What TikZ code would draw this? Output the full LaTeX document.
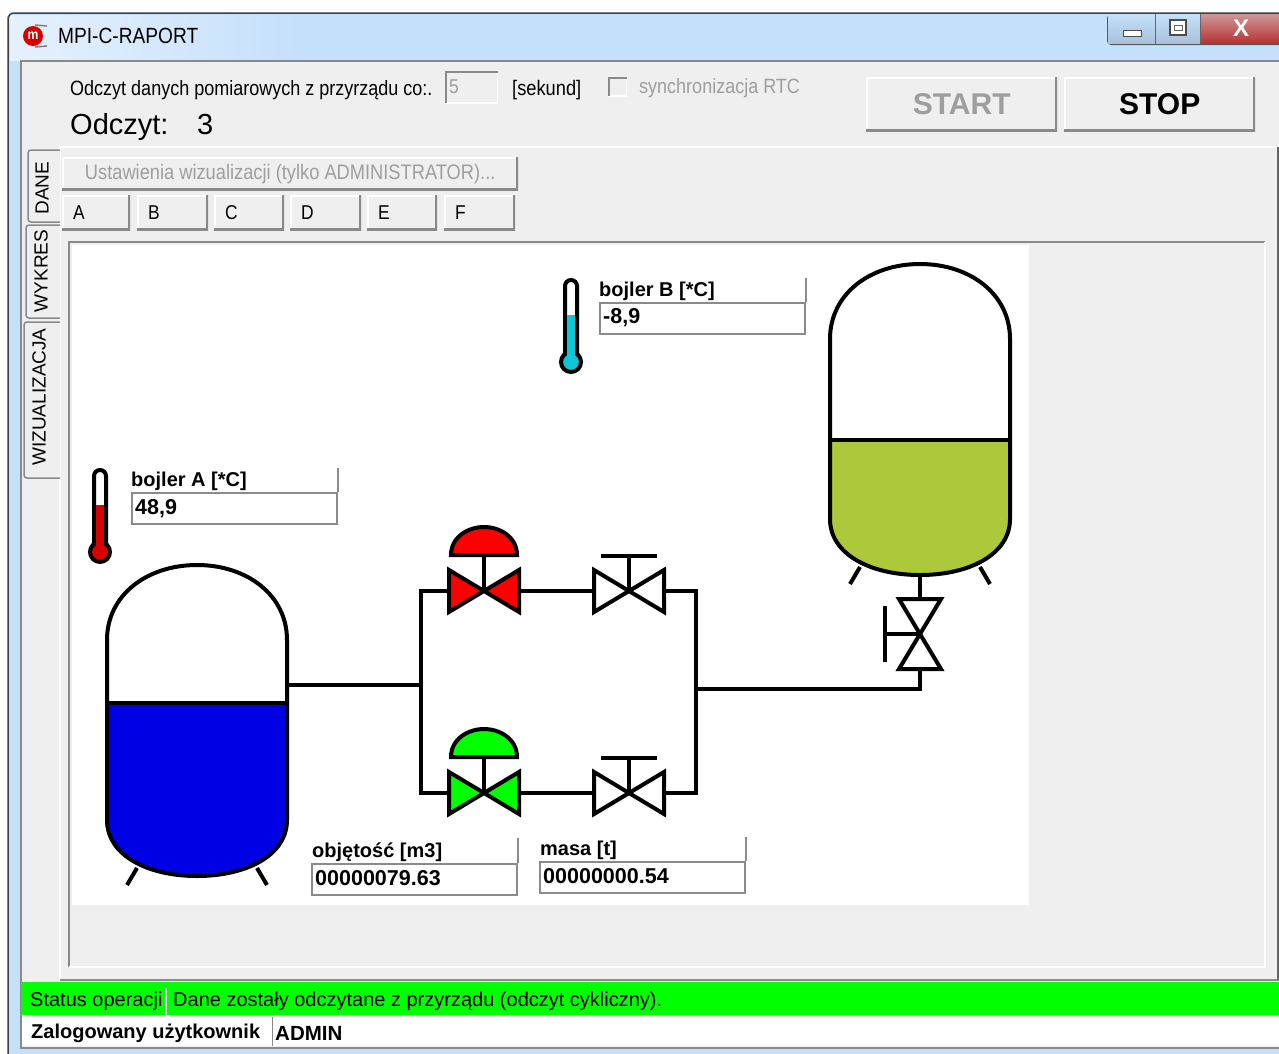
\documentclass[tikz,border=0pt]{standalone}
\usepackage{fontspec}
\setmainfont{Liberation Sans}
\newfontfamily\guifont[FakeStretch=0.87]{Liberation Sans}
\usetikzlibrary{positioning}
\definecolor{guibg}{HTML}{EFEFEF}
\definecolor{framebl}{HTML}{C5E0FB}
\definecolor{edgegr}{HTML}{8A8A8A}
\definecolor{hintgr}{HTML}{9E9E9E}
\definecolor{statgr}{HTML}{00FF00}
\definecolor{oilgr}{HTML}{ABC93A}
\definecolor{coldcy}{HTML}{12C4D8}
\definecolor{winbtn}{HTML}{A9C1DA}
\newcommand{\guisize}[1]{\guifont\fontsize{#1}{#1}\selectfont}
\newcommand{\widesize}[1]{\normalfont\fontsize{#1}{#1}\selectfont}
\tikzset{
    pipeline/.style={line width=4pt,draw=black,line join=miter},
    raised/.style={anchor=north west,fill=guibg,inner sep=0pt,path picture={
        \draw[white,line width=3pt] (path picture bounding box.south west) |- (path picture bounding box.north east);
        \draw[edgegr,line width=4.5pt] (path picture bounding box.south west) -| (path picture bounding box.north east);}},
    sunken/.style={anchor=north west,fill=white,inner xsep=4pt,inner ysep=0pt,path picture={
        \draw[white,line width=3pt] (path picture bounding box.south west) -| (path picture bounding box.north east);
        \draw[edgegr,line width=3pt] (path picture bounding box.south west) |- (path picture bounding box.north east);}},
    fieldbox/.style={anchor=north west,draw=edgegr,line width=2pt,fill=white,minimum width=205pt,minimum height=31pt,
        text width=197pt,inner xsep=4pt,inner ysep=0pt,font=\widesize{21.5}\bfseries},
    fieldvalue/.style={anchor=base west,inner sep=0pt,font=\widesize{21.5}\bfseries},
    fieldtag/.style={anchor=south west,inner sep=0pt,font=\widesize{20}\bfseries},
    tabbtn/.style={raised,minimum height=35pt,inner xsep=0pt,align=left,font=\guisize{20}},
    sidetab/.style={rotate=90,inner sep=0pt,font=\widesize{19}},
    pics/manualvalve/.style={code={
        \coordinate (-l) at (-36,0);
        \coordinate (-r) at (36,0);
        \draw[pipeline,fill=white] (-35,-21) -- (0,0) -- (-35,21) -- cycle;
        \draw[pipeline,fill=white] (35,-21) -- (0,0) -- (35,21) -- cycle;
        \draw[pipeline] (0,0) -- (0,-35);
        \draw[pipeline] (-28,-35) -- (28,-35);}},
    pics/drivevalve/.style={code={
        \coordinate (-l) at (-36,0);
        \coordinate (-r) at (36,0);
        \draw[pipeline,fill=#1] (-35,-21) -- (0,0) -- (-35,21) -- cycle;
        \draw[pipeline,fill=#1] (35,-21) -- (0,0) -- (35,21) -- cycle;
        \draw[pipeline] (0,0) -- (0,-36);
        \draw[pipeline,fill=#1] (-33,-36) .. controls (-33,-54) and (-16,-64) .. (0,-64) .. controls (16,-64) and (33,-54) .. (33,-36) -- cycle;}},
    pics/tank/.style 2 args={code={
        \coordinate (-top) at (0,0);
        \coordinate (-bottom) at (0,311);
        \path[fill=white] (-90,75) .. controls (-90,30) and (-50,0) .. (0,0) .. controls (50,0) and (90,30) .. (90,75) -- (90,255) .. controls (90,290) and (50,311) .. (0,311) .. controls (-50,311) and (-90,290) .. (-90,255) -- cycle;
        \begin{scope}
            \clip (-92,#2) rectangle (92,315);
            \path[fill=#1] (-90,75) -- (90,75) -- (90,255) .. controls (90,290) and (50,311) .. (0,311) .. controls (-50,311) and (-90,290) .. (-90,255) -- cycle;
        \end{scope}
        \draw[pipeline] (-90,#2) -- (90,#2);
        \draw[pipeline] (-90,75) .. controls (-90,30) and (-50,0) .. (0,0) .. controls (50,0) and (90,30) .. (90,75) -- (90,255) .. controls (90,290) and (50,311) .. (0,311) .. controls (-50,311) and (-90,290) .. (-90,255) -- cycle;
        \draw[pipeline] (-60,303) -- (-70,320);
        \draw[pipeline] (60,303) -- (70,320);}},
    pics/thermo/.style 2 args={code={
        \draw[pipeline,fill=white,rounded corners=6pt] (-6,85) -- (-6,2) -- (6,2) -- (6,85);
        \draw[pipeline,fill=#1] (0,84) circle (10);
        \fill[#1] (-4,#2) rectangle (4,78);}},
}
\begin{document}
\begin{tikzpicture}[x=1pt,y=-1pt]
    \useasboundingbox (0,0) rectangle (1279,1053);
    \fill[white] (0,0) rectangle (1279,1053);
    %% Window
    \fill[framebl,rounded corners=6pt] (8,1060) rectangle (1285,13);
    \fill[left color=white!55!framebl,right color=framebl] (10,15) rectangle (300,60);
    \draw[draw=black!75,line width=1.5pt,rounded corners=6pt] (8,1060) |- (1285,13);
    \fill[guibg] (21,1048) rectangle (1285,61);
    \draw[draw=edgegr,line width=1.5pt] (1285,1048) -| (21,61) -- (1285,61);
    %% Title
    \fill[red!85!black] (33,36) circle (10);
    \draw[gray,line width=1.5pt] (35,25) -- (47,26) (35,47) -- (47,46);
    \node[inner sep=0pt,text=white,font=\guisize{14}\bfseries] (icon) at (33,36) {m};
    \node[anchor=west,inner sep=0pt,font=\guisize{22}] (title) at (58,36) {MPI-C-RAPORT};
    %% Window buttons
    \fill[black!65,rounded corners=4pt] (1107,14) rectangle (1285,45);
    \fill[top color=framebl,bottom color=winbtn] (1108,14) rectangle (1155,43);
    \fill[top color=framebl,bottom color=winbtn] (1156,14) rectangle (1200,43);
    \fill[top color=red!35!gray!60,bottom color=red!65!black!80] (1201,14) rectangle (1279,43);
    \draw[fill=white,draw=black!70,line width=1pt] (1123,30) rectangle (1141,36);
    \draw[fill=white,draw=black!70,line width=1.5pt] (1170,20) rectangle (1186,35);
    \draw[black!60,fill=white] (1174,25) rectangle (1182,30);
    \node[inner sep=0pt,text=white,font=\widesize{24}\bfseries] (closex) at (1241,28) {X};
    %% Top row
    \node[anchor=base west,inner sep=0pt,font=\guisize{20.7}] (odczytdanych) at (70,95) {Odczyt danych pomiarowych z przyrządu co:.};
    \node[sunken,fill=guibg,text=hintgr,minimum width=53pt,minimum height=32pt,text width=45pt,font=\guisize{20}] (interval) at (445,71) {5};
    \node[anchor=base west,inner sep=0pt,font=\guisize{21}] (sekund) at (512,95) {[sekund]};
    \node[sunken,fill=guibg,minimum size=19pt,inner xsep=0pt] (rtcbox) at (608,77) {};
    \node[anchor=base west,inner sep=0pt,text=hintgr,font=\guisize{20.7}] (rtc) at (639,93) {synchronizacja RTC};
    \node[anchor=base west,inner sep=0pt,font=\widesize{29}] (odczyt) at (70,134) {Odczyt:};
    \node[anchor=base west,inner sep=0pt,font=\widesize{29}] (odczytval) at (197,134) {3};
    \node[raised,minimum width=191pt,minimum height=54pt,text=hintgr,font=\widesize{30}\bfseries] (start) at (866,77) {START};
    \node[raised,minimum width=191pt,minimum height=54pt,font=\widesize{30}\bfseries] (stop) at (1064,77) {STOP};
    %% Tab page
    \draw[draw=white,line width=1.5pt] (60,980) |- (1279,147);
    \draw[edgegr,line width=2pt] (60,980) -- (1279,980);
    \draw[black!60,line width=2pt] (1278,147) -- (1278,980);
    \draw[draw=edgegr,line width=2.5pt] (69,967) |- (1265,242);
    \draw[white,line width=1.5pt] (69,967) -- (1265,967) -- (1265,242);
    \fill[white] (72,245) rectangle (1029,905);
    %% Side tabs
    \draw[fill=guibg,draw=edgegr,line width=1.5pt,rounded corners=3pt] (60,222) -- (28,222) -- (28,150) -- (60,150);
    \draw[fill=guibg,draw=edgegr,line width=1.5pt,rounded corners=3pt] (60,318) -- (26,318) -- (26,225) -- (60,225);
    \draw[fill=guibg,draw=edgegr,line width=1.5pt,rounded corners=3pt] (60,478) -- (24,478) -- (24,322) -- (60,322);
    \node[sidetab] (tabdane) at (42,188) {DANE};
    \node[sidetab] (tabwykres) at (41,271) {WYKRES};
    \node[sidetab] (tabwiz) at (39,397) {WIZUALIZACJA};
    %% Buttons
    \node[raised,minimum width=456pt,minimum height=33pt,text=hintgr,font=\guisize{21}] (settings) at (62,157) {Ustawienia wizualizacji (tylko ADMINISTRATOR)...};
    \foreach \nm/\xa/\bw in {A/62/68,B/137/71,C/214/70,D/290/71,E/367/70,F/444/71}
        \node[tabbtn,text width=\bw pt] (tab\nm) at (\xa,195) {\hspace*{11pt}\nm};
    %% Tanks
    \pic (tankA) at (197,565) {tank={blue!90!black}{138}};
    \pic (tankB) at (920,264) {tank={oilgr}{176}};
    %% Valves
    \pic (redvalve) at (484,591) {drivevalve=red};
    \pic (greenvalve) at (484,793) {drivevalve=green};
    \pic (handA) at (629,591) {manualvalve};
    \pic (handB) at (629,793) {manualvalve};
    \pic[rotate=90] (handC) at (920,634) {manualvalve};
    %% Pipes
    \coordinate (outA) at (288,685);
    \coordinate (teeA) at (421,685);
    \coordinate (teeB) at (696,689);
    \coordinate (riser) at (920,689);
    \draw[pipeline] (outA) -- (teeA);
    \draw[pipeline] (redvalve-l) -| (teeA) |- (greenvalve-l);
    \draw[pipeline] (redvalve-r) -- (handA-l);
    \draw[pipeline] (greenvalve-r) -- (handB-l);
    \draw[pipeline] (handA-r) -| (teeB) |- (handB-r);
    \draw[pipeline] (teeB) -- (riser) -- (handC-l);
    \draw[pipeline] (handC-r) -- (tankB-bottom);
    %% Thermometers
    \pic at (100,468) {thermo={red!85!black}{505-468}};
    \pic at (571,278) {thermo={coldcy}{315-278}};
    %% Fields
    \node[fieldbox] (bojlerA) at (131,492) {};
    \node[fieldvalue] (bojlerAval) at (135,514) {48,9};
    \node[fieldtag] (bojlerAtag) at (131,491) {bojler A [*C]};
    \draw[edgegr,line width=1.5pt] (bojlerA.north east) -- ++(0,-24);
    \node[fieldbox] (bojlerB) at (599,302) {};
    \node[fieldvalue] (bojlerBval) at (603,323) {-8,9};
    \node[fieldtag] (bojlerBtag) at (599,301) {bojler B [*C]};
    \draw[edgegr,line width=1.5pt] (bojlerB.north east) -- ++(0,-24);
    \node[fieldbox] (objetosc) at (311,863) {};
    \node[fieldvalue] (objetoscval) at (315,885) {00000079.63};
    \node[fieldtag] (objetosctag) at (312,862) {objętość [m3]};
    \draw[edgegr,line width=1.5pt] (objetosc.north east) -- ++(0,-25);
    \node[fieldbox] (masa) at (539,861) {};
    \node[fieldvalue] (masaval) at (543,883) {00000000.54};
    \node[fieldtag] (masatag) at (540,860) {masa [t]};
    \draw[edgegr,line width=1.5pt] (masa.north east) -- ++(0,-24);
    %% Status
    \fill[statgr] (21,982) rectangle (1279,1015);
    \draw[white,line width=1.5pt] (166,988) -- (166,1015);
    \node[anchor=west,inner sep=0pt,font=\widesize{20}] (statustag) at (30,1001) {Status operacji};
    \node[anchor=west,inner sep=0pt,font=\widesize{20}] (statustext) at (173,1001) {Dane zostały odczytane z przyrządu (odczyt cykliczny).};
    \fill[white] (22,1017) rectangle (1279,1046);
    \draw[edgegr,line width=1pt] (272,1017) -- (272,1046);
    \node[anchor=west,inner sep=0pt,font=\widesize{20}\bfseries] (usertag) at (31,1033) {Zalogowany użytkownik};
    \node[anchor=west,inner sep=0pt,font=\widesize{20.5}\bfseries] (user) at (275,1033) {ADMIN};
\end{tikzpicture}
\end{document}
